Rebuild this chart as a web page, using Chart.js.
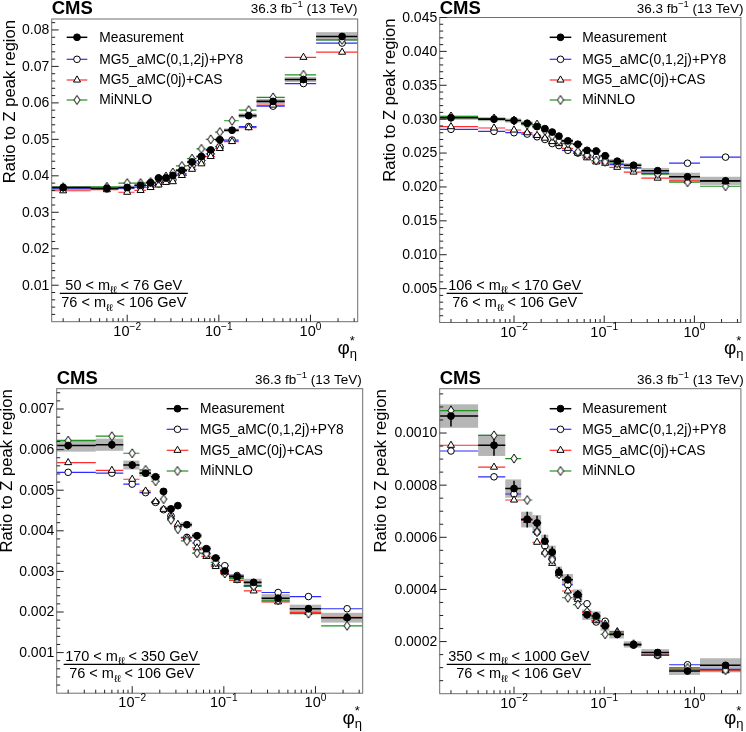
<!DOCTYPE html>
<html>
<head>
<meta charset="utf-8">
<title>Ratio to Z peak region</title>
<script src="https://cdn.jsdelivr.net/npm/chart.js@4.4.1/dist/chart.umd.min.js"></script>
<style>
  body { margin: 0; background: #fff; }
  #figure { position: relative; width: 746px; height: 732px; }
  #figure canvas { position: absolute; }
</style>
</head>
<body>
<div id="figure">
  <canvas id="panel1" width="373" height="366" style="left:0;top:0"></canvas>
  <canvas id="panel2" width="373" height="366" style="left:373px;top:0"></canvas>
  <canvas id="panel3" width="373" height="366" style="left:0;top:366px"></canvas>
  <canvas id="panel4" width="373" height="366" style="left:373px;top:366px"></canvas>
</div>
<script>
// phi*_eta bins (first bin starts at 0)
const binEdges = [0, 0.004, 0.008, 0.012, 0.016, 0.020, 0.024, 0.029, 0.034, 0.045, 0.057, 0.072, 0.091, 0.114, 0.165, 0.258, 0.524, 1.153, 3.277];
const xTickValues = [0.01, 0.1, 1];
const xTickLabels = ["10^{−2}", "10^{−1}", "10^{0}"];

const legendLabels = ["Measurement", "MG5_aMC(0,1,2j)+PY8", "MG5_aMC(0j)+CAS", "MiNNLO"];
const cmsLabel = "CMS";
const lumiLabel = "36.3 fb^{−1} (13 TeV)";
const yTitle = "Ratio to Z peak region";
const massNumerators = ["50 < m_{ℓℓ} < 76 GeV", "106 < m_{ℓℓ} < 170 GeV", "170 < m_{ℓℓ} < 350 GeV", "350 < m_{ℓℓ} < 1000 GeV"];
const massDenominator = "76 < m_{ℓℓ} < 106 GeV";

// 50 < m < 76
const meas1 = [0.0368, 0.0366, 0.0368, 0.0374, 0.0381, 0.0394, 0.0394, 0.0401, 0.0415, 0.0438, 0.0453, 0.0471, 0.0499, 0.0525, 0.0565, 0.0604, 0.0664, 0.0782];
const tot1 = [0.0004, 0.0004, 0.0005, 0.0004, 0.0004, 0.0004, 0.0004, 0.0004, 0.0004, 0.0004, 0.0004, 0.0004, 0.0005, 0.0005, 0.0006, 0.0007, 0.0007, 0.0012];
const stat1 = [0.0006, 0.0005, 0.0008, 0.0006, 0.0005, 0.0005, 0.0005, 0.0005, 0.0005, 0.0005, 0.0005, 0.0005, 0.0005, 0.0005, 0.0005, 0.0005, 0.0005, 0.0006];
const mg1 = [0.0364, 0.0364, 0.0366, 0.0369, 0.0373, 0.0378, 0.0385, 0.0389, 0.0405, 0.0428, 0.0442, 0.0460, 0.0480, 0.0498, 0.0535, 0.0591, 0.0653, 0.0764];
const cas1 = [0.0359, 0.0362, 0.0355, 0.0360, 0.0368, 0.0375, 0.0382, 0.0384, 0.0401, 0.0418, 0.0433, 0.0453, 0.0475, 0.0494, 0.0532, 0.0594, 0.0725, 0.0739];
const minnlo1 = [0.0369, 0.0370, 0.0380, 0.0380, 0.0383, 0.0392, 0.0398, 0.0409, 0.0427, 0.0447, 0.0474, 0.0500, 0.0520, 0.0551, 0.0580, 0.0615, 0.0677, 0.0773];

// 106 < m < 170
const meas2 = [0.0302, 0.0300, 0.0298, 0.0294, 0.0289, 0.0286, 0.0281, 0.0275, 0.0268, 0.0263, 0.0254, 0.0253, 0.0246, 0.0238, 0.0232, 0.0224, 0.0215, 0.0209];
const tot2 = [0.0003, 0.0003, 0.0003, 0.0003, 0.0003, 0.0003, 0.0003, 0.0003, 0.0003, 0.0002, 0.0002, 0.0002, 0.0002, 0.0003, 0.0003, 0.0004, 0.0006, 0.0006];
const stat2 = [0.0004, 0.0004, 0.0004, 0.0004, 0.0003, 0.0003, 0.0003, 0.0003, 0.0003, 0.0003, 0.0003, 0.0003, 0.0003, 0.0003, 0.0003, 0.0003, 0.0003, 0.0003];
const mg2 = [0.0285, 0.0282, 0.0280, 0.0278, 0.0274, 0.0270, 0.0264, 0.0261, 0.0254, 0.0250, 0.0246, 0.0244, 0.0239, 0.0233, 0.0228, 0.0220, 0.0235, 0.0244];
const cas2 = [0.0289, 0.0287, 0.0284, 0.0280, 0.0276, 0.0272, 0.0267, 0.0264, 0.0257, 0.0250, 0.0243, 0.0237, 0.0235, 0.0229, 0.0222, 0.0213, 0.0209, 0.0208];
const minnlo2 = [0.0304, 0.0301, 0.0298, 0.0292, 0.0292, 0.0283, 0.0275, 0.0268, 0.0264, 0.0252, 0.0247, 0.0239, 0.0237, 0.0235, 0.0228, 0.0219, 0.0207, 0.0201];

// 170 < m < 350
const meas3 = [0.00610, 0.00612, 0.00562, 0.00542, 0.00533, 0.00497, 0.00454, 0.00462, 0.00415, 0.00388, 0.00356, 0.00333, 0.00301, 0.00287, 0.00273, 0.00234, 0.00208, 0.00186];
const tot3 = [0.00015, 0.00015, 0.00011, 0.00008, 0.00007, 0.00007, 0.00007, 0.00006, 0.00006, 0.00006, 0.00006, 0.00006, 0.00006, 0.00006, 0.00009, 0.00010, 0.00010, 0.00012];
const stat3 = [0.00010, 0.00010, 0.00010, 0.00009, 0.00008, 0.00008, 0.00007, 0.00007, 0.00006, 0.00006, 0.00006, 0.00006, 0.00006, 0.00005, 0.00005, 0.00006, 0.00006, 0.00008];
const mg3 = [0.00544, 0.00542, 0.00515, 0.00494, 0.00470, 0.00452, 0.00437, 0.00409, 0.00384, 0.00370, 0.00345, 0.00316, 0.00314, 0.00290, 0.00265, 0.00248, 0.00238, 0.00208];
const cas3 = [0.00568, 0.00549, 0.00527, 0.00498, 0.00472, 0.00453, 0.00434, 0.00416, 0.00382, 0.00358, 0.00337, 0.00312, 0.00297, 0.00278, 0.00252, 0.00225, 0.00199, 0.00187];
const minnlo3 = [0.00622, 0.00633, 0.00591, 0.00550, 0.00522, 0.00478, 0.00427, 0.00404, 0.00375, 0.00345, 0.00343, 0.00322, 0.00295, 0.00282, 0.00263, 0.00229, 0.00196, 0.00166];

// 350 < m < 1000
const meas4 = [0.001065, 0.000953, 0.000787, 0.000668, 0.000655, 0.000585, 0.000543, 0.000466, 0.000437, 0.000380, 0.000303, 0.000298, 0.000260, 0.000227, 0.000189, 0.000158, 0.000087, 0.000109];
const tot4 = [0.000045, 0.000041, 0.000035, 0.000030, 0.000030, 0.000025, 0.000025, 0.000022, 0.000022, 0.000020, 0.000020, 0.000018, 0.000018, 0.000015, 0.000012, 0.000013, 0.000015, 0.000027];
const stat4 = [0.000040, 0.000040, 0.000030, 0.000030, 0.000028, 0.000025, 0.000022, 0.000020, 0.000020, 0.000018, 0.000015, 0.000015, 0.000013, 0.000010, 0.000008, 0.000008, 0.000008, 0.000012];
const mg4 = [0.000931, 0.000832, 0.000766, 0.000670, 0.000620, 0.000567, 0.000517, 0.000466, 0.000418, 0.000372, 0.000345, 0.000275, 0.000278, 0.000228, 0.000186, 0.000147, 0.000111, 0.000093];
const cas4 = [0.000953, 0.000869, 0.000743, 0.000665, 0.000581, 0.000543, 0.000500, 0.000460, 0.000394, 0.000362, 0.000311, 0.000280, 0.000267, 0.000238, 0.000188, 0.000148, 0.000093, 0.000088];
const minnlo4 = [0.001086, 0.000991, 0.000902, 0.000743, 0.000620, 0.000540, 0.000514, 0.000458, 0.000368, 0.000342, 0.000315, 0.000290, 0.000228, 0.000232, 0.000190, 0.000150, 0.000099, 0.000090];

const FONT = '"Liberation Sans", Arial, Helvetica, sans-serif';
const modelColors = ["rgb(45,45,255)", "rgb(255,45,45)", "rgb(30,145,30)"];

function makeDiamond() {
    const c = document.createElement("canvas");
    c.width = 8;
    c.height = 11;
    const g = c.getContext("2d");
    g.beginPath();
    g.moveTo(4, 1);
    g.lineTo(7, 5.5);
    g.lineTo(4, 10);
    g.lineTo(1, 5.5);
    g.closePath();
    g.fillStyle = "#fff";
    g.fill();
    g.strokeStyle = "#000";
    g.lineWidth = 1;
    g.stroke();
    return c;
}
const diamond = makeDiamond();

const markerStyles = [
    { pointStyle: "circle", radius: 3.4, fill: "#000" },
    { pointStyle: "circle", radius: 3.3, fill: "#fff" },
    { pointStyle: "triangle", radius: 4.1, fill: "#fff" },
    { pointStyle: diamond, radius: 4, fill: "#fff" }
];

const panels = [
    { id: "panel1", meas: meas1, tot: tot1, stat: stat1, models: [mg1, cas1, minnlo1], num: massNumerators[0],
      pad: { left: 51.7, top: 19, right: 15.3, bottom: 44.3 }, yMax: 0.083, major: 0.01, minor: 0.002, dec: 2,
      cms: [51.7, 14], lumi: [357.5, 12.5], yTitle: [15, 20], xTitle: [357, 354], xLab: 336,
      legend: { x1: 66.7, x2: 87.3, tx: 99.3, ys: [37.3, 59.3, 80, 100] }, mass: { cx: 123.8, line: 293.3, num: 289.5, den: 307 } },
    { id: "panel2", meas: meas2, tot: tot2, stat: stat2, models: [mg2, cas2, minnlo2], num: massNumerators[1],
      pad: { left: 66.7, top: 17.5, right: 1.3, bottom: 43.5 }, yMax: 0.045, major: 0.005, minor: 0.001, dec: 3,
      cms: [66.7, 14], lumi: [370.5, 12.5], yTitle: [21.6, 18.5], xTitle: [370.5, 354], xLab: 336.5,
      legend: { x1: 176.7, x2: 198.3, tx: 209.3, ys: [37.3, 59.3, 80, 100] }, mass: { cx: 141.7, line: 293.3, num: 289.5, den: 307 } },
    { id: "panel3", meas: meas3, tot: tot3, stat: stat3, models: [mg3, cas3, minnlo3], num: massNumerators[2],
      pad: { left: 56.7, top: 22.7, right: 10.3, bottom: 38.8 }, yMax: 0.0075, major: 0.001, minor: 0.0002, dec: 3,
      cms: [56.7, 18.3], lumi: [361.7, 17.5], yTitle: [11.6, 23.3], xTitle: [362, 358], xLab: 341,
      legend: { x1: 166.7, x2: 188.3, tx: 200, ys: [42.7, 63.3, 84.3, 105] }, mass: { cx: 131.7, line: 298.3, num: 294.5, den: 312 } },
    { id: "panel4", meas: meas4, tot: tot4, stat: stat4, models: [mg4, cas4, minnlo4], num: massNumerators[3],
      pad: { left: 66.7, top: 22.7, right: 1.3, bottom: 38.3 }, yMax: 0.00117, major: 0.0002, minor: 0.00005, dec: 4,
      cms: [66.7, 18.3], lumi: [370.7, 17.5], yTitle: [12.6, 23.3], xTitle: [370.5, 358], xLab: 341.5,
      legend: { x1: 176.7, x2: 198.3, tx: 209.3, ys: [42.7, 63.3, 84.3, 105] }, mass: { cx: 145.8, line: 298.3, num: 294.5, den: 312 } }
];

// horizontal segment per bin, broken by null points
function binLines(vals) {
    const pts = [];
    vals.forEach((v, i) => {
        pts.push({ x: binEdges[i], y: v }, { x: binEdges[i + 1], y: v }, { x: binEdges[i + 1], y: null });
    });
    return pts;
}

function binCenter(i) {
    return (binEdges[i] + binEdges[i + 1]) / 2;
}

function markers(vals) {
    return vals.map((v, i) => ({ x: binCenter(i), y: v }));
}

function errorBars(vals, errs) {
    const pts = [];
    vals.forEach((v, i) => {
        const c = binCenter(i);
        pts.push({ x: c, y: v - errs[i] }, { x: c, y: v + errs[i] }, { x: c, y: null });
    });
    return pts;
}

function parseRich(str) {
    const parts = [];
    const re = /([_^])\{([^}]*)\}|([^_^]+)/g;
    let m;
    while ((m = re.exec(str)) !== null) {
        if (m[3]) parts.push({ t: m[3], mode: 0 });
        else parts.push({ t: m[2], mode: m[1] === "^" ? 1 : -1 });
    }
    return parts;
}

function drawRich(ctx, str, x, y, size, align, weight) {
    const parts = parseRich(str);
    const fontFor = p => (weight || "normal") + " " + (p.mode ? size * 0.7 : size) + "px " + FONT;
    let w = 0;
    parts.forEach(p => {
        ctx.font = fontFor(p);
        p.w = ctx.measureText(p.t).width;
        w += p.w;
    });
    let cx = align === "center" ? x - w / 2 : align === "right" ? x - w : x;
    ctx.textAlign = "left";
    ctx.textBaseline = "alphabetic";
    parts.forEach(p => {
        ctx.font = fontFor(p);
        const dy = p.mode === 1 ? -size * 0.42 : p.mode === -1 ? size * 0.25 : 0;
        ctx.fillText(p.t, cx, y + dy);
        cx += p.w;
    });
    return w;
}

function measureRich(ctx, str, size) {
    let w = 0;
    parseRich(str).forEach(p => {
        ctx.font = (p.mode ? size * 0.7 : size) + "px " + FONT;
        w += ctx.measureText(p.t).width;
    });
    return w;
}

function panelPlugin(p) {
    return {
        id: "cmsPanel",
        beforeDatasetsDraw(chart) {
            const ctx = chart.ctx, a = chart.chartArea;
            const xs = chart.scales.x, ys = chart.scales.y;
            ctx.save();
            ctx.beginPath();
            ctx.rect(a.left, a.top, a.width, a.height);
            ctx.clip();
            ctx.fillStyle = "rgba(110,110,110,0.5)";
            p.meas.forEach((v, i) => {
                const x1 = xs.getPixelForValue(binEdges[i]);
                const x2 = xs.getPixelForValue(binEdges[i + 1]);
                const y1 = ys.getPixelForValue(v + p.tot[i]);
                const y2 = ys.getPixelForValue(v - p.tot[i]);
                ctx.fillRect(x1, y1, x2 - x1, y2 - y1);
            });
            ctx.restore();
        },
        afterDraw(chart) {
            const ctx = chart.ctx, a = chart.chartArea;
            const xs = chart.scales.x, ys = chart.scales.y;
            ctx.save();

            // frame
            ctx.strokeStyle = "#6e6e6e";
            ctx.lineWidth = 1;
            ctx.strokeRect(a.left, a.top, a.width, a.height);

            // ticks
            ctx.strokeStyle = "#222";
            ctx.beginPath();
            for (let d = -3; d <= 0; d++) {
                for (let k = 1; k <= 9; k++) {
                    const v = k * Math.pow(10, d);
                    if (v < xs.min || v > xs.max) continue;
                    const px = xs.getPixelForValue(v);
                    const len = k === 1 ? 7 : 3.5;
                    ctx.moveTo(px, a.bottom);
                    ctx.lineTo(px, a.bottom - len);
                }
            }
            const n = Math.round(p.yMax / p.minor);
            const per = Math.round(p.major / p.minor);
            const yLabels = [];
            for (let i = 1; i <= n; i++) {
                const v = i * p.minor;
                if (v > p.yMax) continue;
                const py = ys.getPixelForValue(v);
                const isMajor = i % per === 0;
                ctx.moveTo(a.left, py);
                ctx.lineTo(a.left + (isMajor ? 7 : 3.5), py);
                if (isMajor) yLabels.push([v.toFixed(p.dec), py]);
            }
            ctx.stroke();

            ctx.fillStyle = "#000";
            // y tick labels
            ctx.font = "14px " + FONT;
            ctx.textAlign = "right";
            ctx.textBaseline = "middle";
            yLabels.forEach(([t, py]) => ctx.fillText(t, a.left - 2.5, py + 0.5));

            // x tick labels
            xTickValues.forEach((v, i) => {
                drawRich(ctx, xTickLabels[i], xs.getPixelForValue(v), p.xLab, 14.5, "center");
            });

            // x title
            const [tx, ty] = p.xTitle;
            ctx.textAlign = "left";
            ctx.textBaseline = "alphabetic";
            ctx.font = "19px " + FONT;
            const wPhi = ctx.measureText("φ").width;
            ctx.font = "13px " + FONT;
            const wSub = Math.max(ctx.measureText("*").width, ctx.measureText("η").width);
            const x0 = tx - wPhi - wSub;
            ctx.font = "19px " + FONT;
            ctx.fillText("φ", x0, ty);
            ctx.font = "13px " + FONT;
            ctx.fillText("*", x0 + wPhi, ty - 9);
            ctx.fillText("η", x0 + wPhi, ty + 4);

            // y title
            ctx.save();
            ctx.translate(p.yTitle[0], p.yTitle[1]);
            ctx.rotate(-Math.PI / 2);
            ctx.font = "16.6px " + FONT;
            ctx.textAlign = "right";
            ctx.fillText(yTitle, 0, 0);
            ctx.restore();

            // CMS and lumi
            ctx.font = "bold 18.5px " + FONT;
            ctx.textAlign = "left";
            ctx.fillText(cmsLabel, p.cms[0], p.cms[1]);
            drawRich(ctx, lumiLabel, p.lumi[0], p.lumi[1], 13.5, "right");

            // legend
            const lg = p.legend;
            const colors = ["#000"].concat(modelColors);
            legendLabels.forEach((label, i) => {
                const y = lg.ys[i];
                ctx.strokeStyle = colors[i];
                ctx.lineWidth = i === 0 ? 1.5 : 1.2;
                ctx.beginPath();
                ctx.moveTo(lg.x1, y);
                ctx.lineTo(lg.x2, y);
                ctx.stroke();
                const ms = markerStyles[i];
                ctx.fillStyle = ms.fill;
                ctx.strokeStyle = "#000";
                ctx.lineWidth = 1;
                Chart.helpers.drawPoint(ctx, { pointStyle: ms.pointStyle, radius: ms.radius, rotation: 0, borderWidth: 1 }, (lg.x1 + lg.x2) / 2, y);
                ctx.fillStyle = "#000";
                ctx.font = "13.8px " + FONT;
                ctx.textAlign = "left";
                ctx.textBaseline = "middle";
                ctx.fillText(label, lg.tx, y + 0.5);
            });

            // mass window label
            const ms = p.mass;
            ctx.textBaseline = "alphabetic";
            const wn = measureRich(ctx, p.num, 14.5);
            const wd = measureRich(ctx, massDenominator, 14.5);
            const w = Math.max(wn, wd) + 3;
            drawRich(ctx, p.num, ms.cx, ms.num, 14.5, "center");
            drawRich(ctx, massDenominator, ms.cx, ms.den, 14.5, "center");
            ctx.strokeStyle = "#000";
            ctx.lineWidth = 1.2;
            ctx.beginPath();
            ctx.moveTo(ms.cx - w / 2, ms.line);
            ctx.lineTo(ms.cx + w / 2, ms.line);
            ctx.stroke();

            ctx.restore();
        }
    };
}

function makeChart(p) {
    const datasets = [];
    p.models.forEach((vals, m) => {
        datasets.push({ data: binLines(vals), showLine: true, spanGaps: false, borderColor: modelColors[m], borderWidth: 1.2, pointRadius: 0, order: 9 });
    });
    datasets.push({ data: binLines(p.meas), showLine: true, spanGaps: false, borderColor: "#000", borderWidth: 1.6, pointRadius: 0, order: 8 });
    datasets.push({ data: errorBars(p.meas, p.stat), showLine: true, spanGaps: false, borderColor: "#000", borderWidth: 1.5, pointRadius: 0, order: 7 });
    p.models.forEach((vals, m) => {
        const ms = markerStyles[m + 1];
        datasets.push({ data: markers(vals), showLine: false, pointStyle: ms.pointStyle, pointRadius: ms.radius,
            pointBackgroundColor: ms.fill, pointBorderColor: "#000", pointBorderWidth: 1, order: 6 - m * 0.1 });
    });
    datasets.push({ data: markers(p.meas), showLine: false, pointStyle: "circle", pointRadius: markerStyles[0].radius,
        pointBackgroundColor: "#000", pointBorderColor: "#000", pointBorderWidth: 1, order: 5 });

    return new Chart(document.getElementById(p.id), {
        type: "scatter",
        data: { datasets },
        options: {
            responsive: false,
            animation: false,
            devicePixelRatio: 1,
            layout: { padding: p.pad },
            plugins: { legend: { display: false }, tooltip: { enabled: false } },
            events: [],
            scales: {
                x: { type: "logarithmic", min: 0.0015, max: 3.277, display: false },
                y: { type: "linear", min: 0, max: p.yMax, display: false }
            }
        },
        plugins: [panelPlugin(p)]
    });
}

Chart.defaults.font.family = FONT;
panels.forEach(makeChart);
</script>
</body>
</html>
